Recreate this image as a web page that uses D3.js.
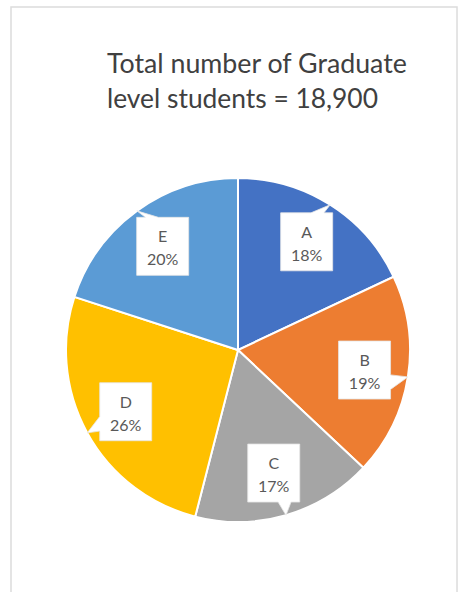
<!DOCTYPE html>
<html>
<head>
<meta charset="utf-8">
<script src="https://cdn.jsdelivr.net/npm/d3@7"></script>
<style>
  html, body { margin: 0; padding: 0; background: #ffffff; }
  svg { display: block; }
</style>
</head>
<body>
<svg id="chart" width="462" height="592"></svg>
<script>
// ---- data ----
const categories = ["A", "B", "C", "D", "E"];
const values = [18, 19, 17, 26, 20];
const colors = ["#4472C4", "#ED7D31", "#A5A5A5", "#FFC000", "#5B9BD5"];
const titleLines = ["Total number of Graduate", "level students = 18,900"];

// ---- layout ----
const W = 462, H = 592;
const cx = 238, cy = 350, R = 172;
const FONT = "Lato, 'Open Sans', 'DejaVu Sans', sans-serif";

const svg = d3.select("#chart");

// frame
svg.append("rect")
  .attr("x", 11).attr("y", 7)
  .attr("width", 446).attr("height", 600)
  .attr("fill", "#ffffff")
  .attr("stroke", "#dcdcdc")
  .attr("stroke-width", 1.5);

// title
const title = svg.append("g");
const targetW = [300, 271];
titleLines.forEach((t, i) => {
  const txt = title.append("text")
    .attr("x", 107)
    .attr("y", 73 + i * 35)
    .attr("fill", "#404040")
    .style("font-family", FONT)
    .style("font-size", "24px")
    .text(t);
  const w = txt.node().getComputedTextLength();
  txt.style("font-size", (24 * targetW[i] / w).toFixed(2) + "px");
});

// pie
const pie = d3.pie().sort(null).value(d => d)(values);
const arc = d3.arc().innerRadius(0).outerRadius(R);
const g = svg.append("g").attr("transform", `translate(${cx},${cy})`);

g.selectAll("path.slice")
  .data(pie)
  .join("path")
  .attr("class", "slice")
  .attr("d", arc)
  .attr("fill", (d, i) => colors[i])
  .attr("stroke", "#ffffff")
  .attr("stroke-width", 2);

// callout labels
const labelArc = d3.arc().innerRadius(R * 0.745).outerRadius(R * 0.745);
const tipArc = d3.arc().innerRadius(R).outerRadius(R);
const bw = 52, bh = 58;

function calloutPath(w, h, tx, ty) {
  // rectangle centered at 0,0 with wedge to (tx,ty), Excel-like wedgeRectCallout
  const x0 = -w / 2, y0 = -h / 2, x1 = w / 2, y1 = h / 2;
  const horiz = Math.abs(tx) / w > Math.abs(ty) / h;
  let p = [];
  if (horiz) {
    const ya = ty > 0 ? y0 + h * 7 / 12 : y0 + h * 2 / 12;
    const yb = ty > 0 ? y0 + h * 10 / 12 : y0 + h * 5 / 12;
    if (tx > 0) {
      p = [[x0, y0], [x1, y0], [x1, ya], [tx, ty], [x1, yb], [x1, y1], [x0, y1]];
    } else {
      p = [[x0, y0], [x1, y0], [x1, y1], [x0, y1], [x0, yb], [tx, ty], [x0, ya]];
    }
  } else {
    const xa = tx > 0 ? x0 + w * 7 / 12 : x0 + w * 2 / 12;
    const xb = tx > 0 ? x0 + w * 10 / 12 : x0 + w * 5 / 12;
    if (ty > 0) {
      p = [[x0, y0], [x1, y0], [x1, y1], [xb, y1], [tx, ty], [xa, y1], [x0, y1]];
    } else {
      p = [[x0, y0], [xa, y0], [tx, ty], [xb, y0], [x1, y0], [x1, y1], [x0, y1]];
    }
  }
  return "M" + p.map(q => q.join(",")).join("L") + "Z";
}

const labels = g.selectAll("g.lbl")
  .data(pie)
  .join("g")
  .attr("class", "lbl")
  .attr("transform", d => `translate(${labelArc.centroid(d)})`);

labels.append("path")
  .attr("d", d => {
    const c = labelArc.centroid(d);
    const t = tipArc.centroid(d);
    return calloutPath(bw, bh, t[0] - c[0], t[1] - c[1]);
  })
  .attr("fill", "#ffffff")
  .attr("stroke", "#e6e6e6")
  .attr("stroke-width", 0.8);

labels.append("text")
  .attr("text-anchor", "middle")
  .attr("y", -4)
  .attr("fill", "#595959")
  .style("font-family", FONT)
  .style("font-size", "16px")
  .text((d, i) => categories[i]);

labels.append("text")
  .attr("text-anchor", "middle")
  .attr("y", 19)
  .attr("fill", "#595959")
  .style("font-family", FONT)
  .style("font-size", "16px")
  .text((d, i) => values[i] + "%");
</script>
</body>
</html>
